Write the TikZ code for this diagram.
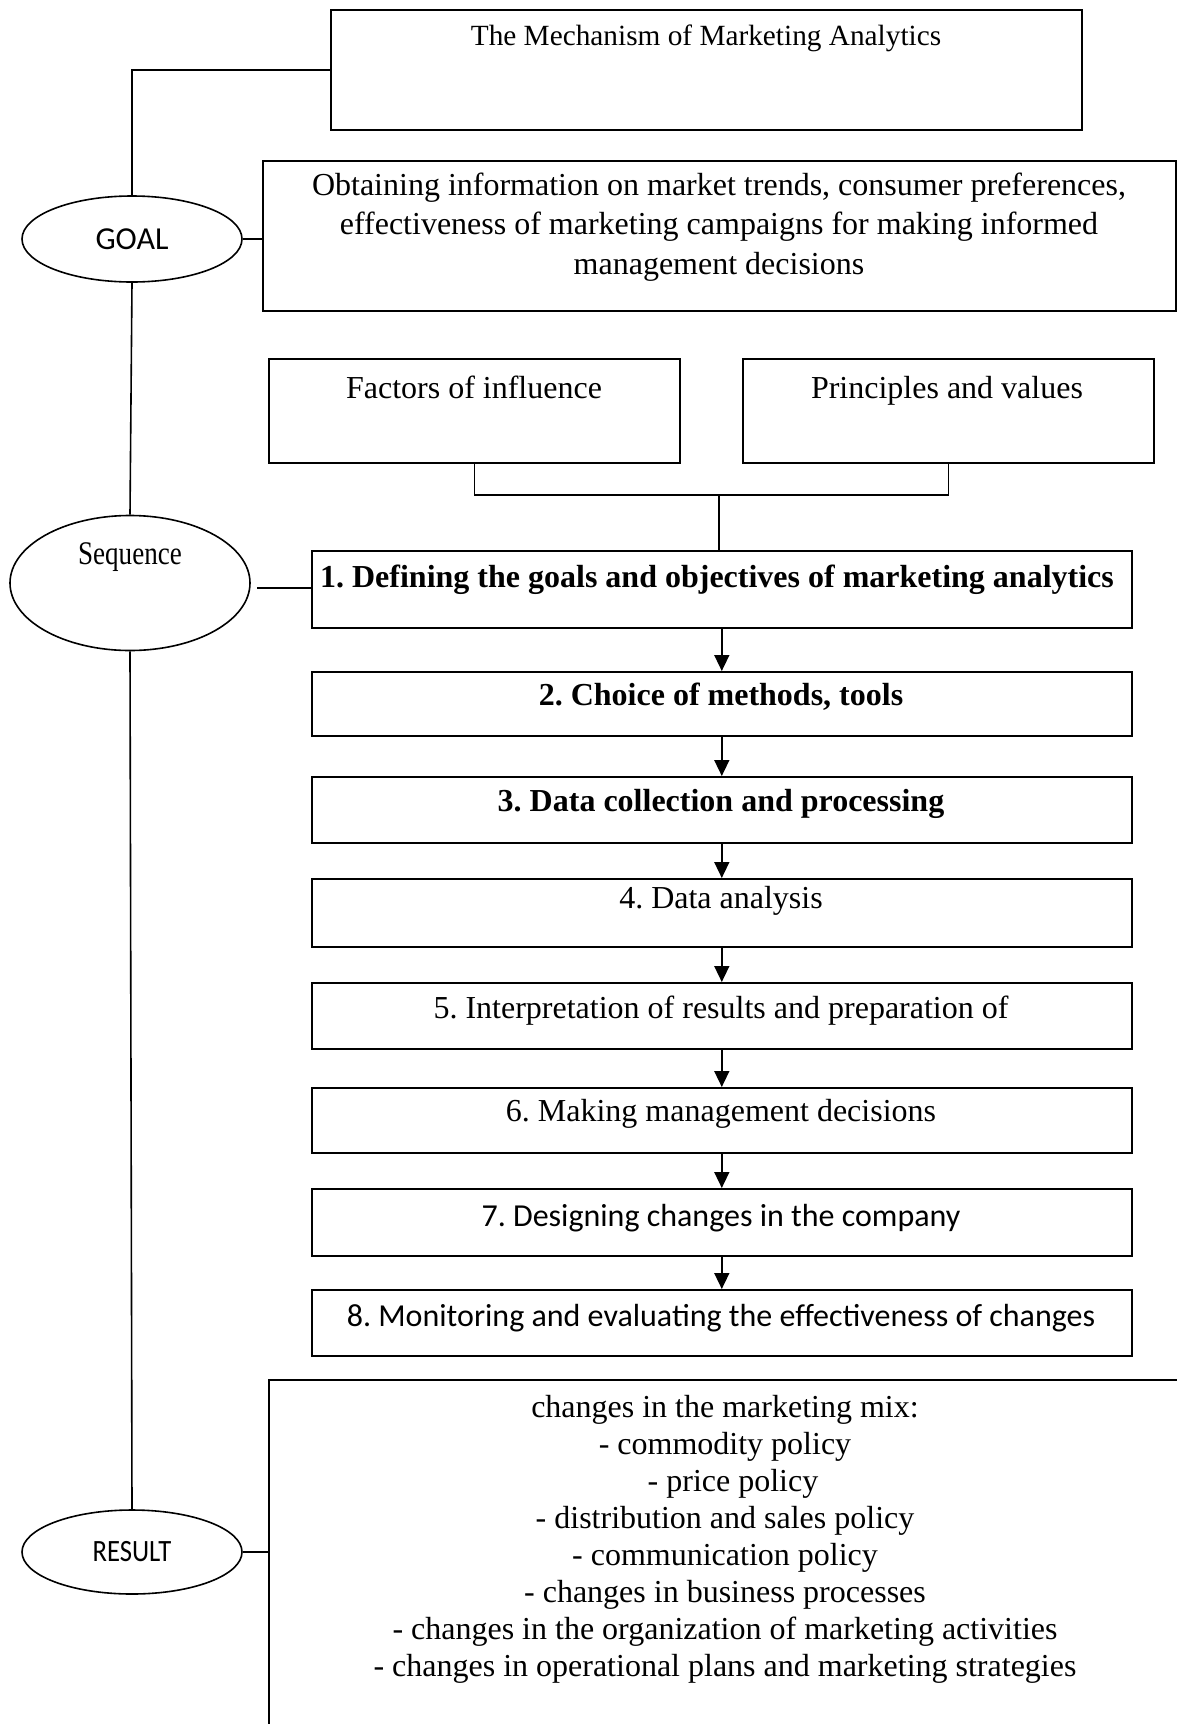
\documentclass[tikz,border=0pt]{standalone}
\usepackage{fontspec}
\setmainfont{Liberation Serif}
\newfontfamily\calibri{Carlito}
\usetikzlibrary{arrows.meta,shapes.geometric}

\tikzset{
  frame/.style={draw, line width=1.6pt, inner sep=0pt, anchor=north west},
  oval/.style={draw, ellipse, line width=1.6pt, inner sep=0pt},
  link/.style={line width=1.6pt},
  flow/.style={line width=1.6pt, -{Triangle[length=16pt,width=15pt]}},
  txt/.style={font=\fontsize{32}{39.6}\selectfont, align=center, inner sep=0pt},
  btxt/.style={align=center, inner sep=0pt, font=\fontsize{32}{38}\selectfont\bfseries},
  stxt/.style={align=center, inner sep=0pt, font=\fontsize{32}{38}\selectfont\calibri},
  rtxt/.style={align=center, inner sep=0pt, font=\fontsize{32}{37}\selectfont},
}

\begin{document}
\frenchspacing
\begin{tikzpicture}[x=1pt, y=-1pt]
  \clip (0,0) rectangle (1177,1724);
  \fill[white] (0,0) rectangle (1177,1724);

  % header and goal
  \node[frame, minimum width=751pt, minimum height=120pt] (top) at (330,9) {};
  \node[inner sep=0pt, font=\fontsize{29.3}{34}\selectfont] (toptxt) at (706,38) {The Mechanism of Marketing Analytics};
  \node[frame, minimum width=913pt, minimum height=150pt] (goalbox) at (262,160) {};
  \node[txt] (goaltxt) at (719,227) {Obtaining information on market trends, consumer preferences,\\
    effectiveness of marketing campaigns for making informed\\
    management decisions};

  % influences
  \node[frame, minimum width=411pt, minimum height=104pt] (fac) at (268,358) {};
  \node[txt] (factxt) at (474,387) {Factors of influence};
  \node[frame, minimum width=411pt, minimum height=104pt] (pri) at (742,358) {};
  \node[txt] (pritxt) at (947,391) {Principles and values};

  % sequence of steps
  \node[frame, minimum width=820pt, minimum height=77pt] (s1) at (311,550) {};
  \node[frame, minimum width=820pt, minimum height=64pt] (s2) at (311,671) {};
  \node[frame, minimum width=820pt, minimum height=66pt] (s3) at (311,776) {};
  \node[frame, minimum width=820pt, minimum height=68pt] (s4) at (311,878) {};
  \node[frame, minimum width=820pt, minimum height=66pt] (s5) at (311,982) {};
  \node[frame, minimum width=820pt, minimum height=65pt] (s6) at (311,1087) {};
  \node[frame, minimum width=820pt, minimum height=67pt] (s7) at (311,1188) {};
  \node[frame, minimum width=820pt, minimum height=66pt] (s8) at (311,1289) {};

  \node[btxt] (s1t) at (717,580) {1. Defining the goals and objectives of marketing analytics};
  \node[btxt] (s2t) at (721,697) {2. Choice of methods, tools};
  \node[btxt] (s3t) at (721,804) {3. Data collection and processing};
  \node[txt]  (s4t) at (721,901) {4. Data analysis};
  \node[txt]  (s5t) at (721,1011) {5. Interpretation of results and preparation of};
  \node[txt]  (s6t) at (721,1114) {6. Making management decisions};
  \node[stxt] (s7t) at (721,1218) {7. Designing changes in the company};
  \node[stxt] (s8t) at (721,1318) {8. Monitoring and evaluating the effectiveness of changes};

  % result
  \node[frame, minimum width=1000pt, minimum height=500pt] (resbox) at (268,1379) {};
  \node[rtxt] (restxt) at (725,1539) {changes in the marketing mix:\\
    - commodity policy\\
    \hspace*{16pt}- price policy\\
    - distribution and sales policy\\
    - communication policy\\
    - changes in business processes\\
    - changes in the organization of marketing activities\\
    - changes in operational plans and marketing strategies};

  % left column
  \node[oval, minimum width=220pt, minimum height=86pt, font=\fontsize{32}{34}\selectfont\calibri] (goalov) at (132,239) {GOAL};
  \node[oval, minimum width=240pt, minimum height=135pt] (seqov) at (130,583) {};
  \node[inner sep=0pt, font=\fontsize{33}{34}\selectfont] (seqtxt) at (130,557) {\scalebox{0.82}[1]{Sequence}};
  \node[oval, minimum width=220pt, minimum height=84pt, font=\fontsize{31}{34}\selectfont\calibri] (resov) at (132,1552) {\scalebox{0.86}[1]{RESULT}};

  % connectors
  \draw[link] (top.west) -| (goalov.north);
  \draw[link] (goalov.east) -- (goalov.east -| goalbox.west);
  \draw[link] (goalov.south) -- (seqov.north);
  \draw[link] (seqov.south) -- (resov.north);
  \coordinate (seqtap) at (257,588);
  \draw[link] (seqtap) -- (seqtap -| s1.west);
  \draw[link] (resov.east) -- (resov.east -| resbox.west);

  \coordinate (join) at (719,495);
  \draw[link] (fac.south) -- (fac.south |- join) -- (pri.south |- join) -- (pri.south);
  \draw[link] (join) -- (join |- s1.north);

  \draw[flow] (s1.south) -- (s2.north);
  \draw[flow] (s2.south) -- (s3.north);
  \draw[flow] (s3.south) -- (s4.north);
  \draw[flow] (s4.south) -- (s5.north);
  \draw[flow] (s5.south) -- (s6.north);
  \draw[flow] (s6.south) -- (s7.north);
  \draw[flow] (s7.south) -- (s8.north);
\end{tikzpicture}
\end{document}
